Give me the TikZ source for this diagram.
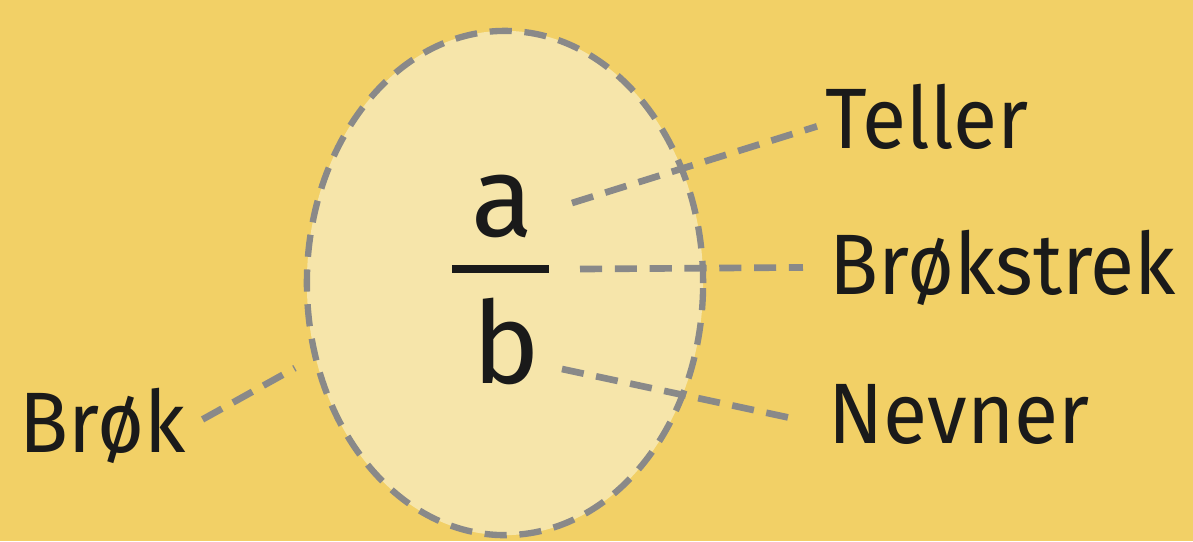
\documentclass[tikz,border=0pt]{standalone}
\usepackage{fontspec}
\setmainfont{Fira Sans}
\newfontfamily\labelfont{Fira Sans}[FakeStretch=0.94]
\usetikzlibrary{shapes.geometric}
\definecolor{fbg}{RGB}{242,208,102}
\definecolor{foval}{RGB}{246,229,170}
\definecolor{fgray}{RGB}{137,137,137}
\definecolor{fink}{RGB}{26,26,26}
\tikzset{
  fring/.style={ellipse, draw=fgray, fill=foval, line width=1.8pt, dash pattern=on 6.3pt off 3.6pt, minimum width=3.96cm, minimum height=5.04cm, inner sep=0pt},
  flabel/.style={font=\labelfont\fontsize{24.4}{28}\selectfont, text=fink, anchor=base west, inner sep=0pt},
  fnum/.style={font=\fontsize{32.4}{36}\selectfont, text=fink, anchor=base, inner sep=0pt},
  fbar/.style={fill=fink, minimum width=0.97cm, minimum height=0.075cm, inner sep=0pt},
  flead/.style={draw=fgray, line width=1.9pt, dash pattern=on 6.3pt off 3.6pt}
}

\begin{document}
\begin{tikzpicture}[x=0.01cm, y=-0.01cm]
    % background
    \fill[fbg] (0,0) rectangle (1193,541);
    \useasboundingbox (0,0) rectangle (1193,541);
    % oval with the fraction
    \node[fring] (frac) at (505,283) {};
    \node[fnum] (num) at (502,236) {a};
    \node[fbar] (bar) at (500.5,269) {};
    \node[fnum] (den) at (506,383) {b};
    % labels
    \node[flabel] (teller) at (825,148) {Teller};
    \node[flabel] (strek) at (829,294) {Brøkstrek};
    \node[flabel] (nevner) at (828,443) {Nevner};
    \node[flabel] (brok) at (19,452) {Brøk};
    % leaders
    \coordinate (tA) at (572,203);
    \coordinate (tS) at (580,269);
    \coordinate (tN) at (562,369);
    \coordinate (tB) at (295,368);
    \draw[flead] (tA) -- ([xshift=-0.08cm,yshift=-0.1cm]teller.west);
    \draw[flead] (tS) -- ([xshift=-0.26cm]strek.west);
    \draw[flead] (tN) -- ([xshift=-0.28cm,yshift=-0.06cm]nevner.west);
    \draw[flead] ([xshift=0.16cm,yshift=0.06cm]brok.east) -- (tB);
  \end{tikzpicture}
\end{document}
